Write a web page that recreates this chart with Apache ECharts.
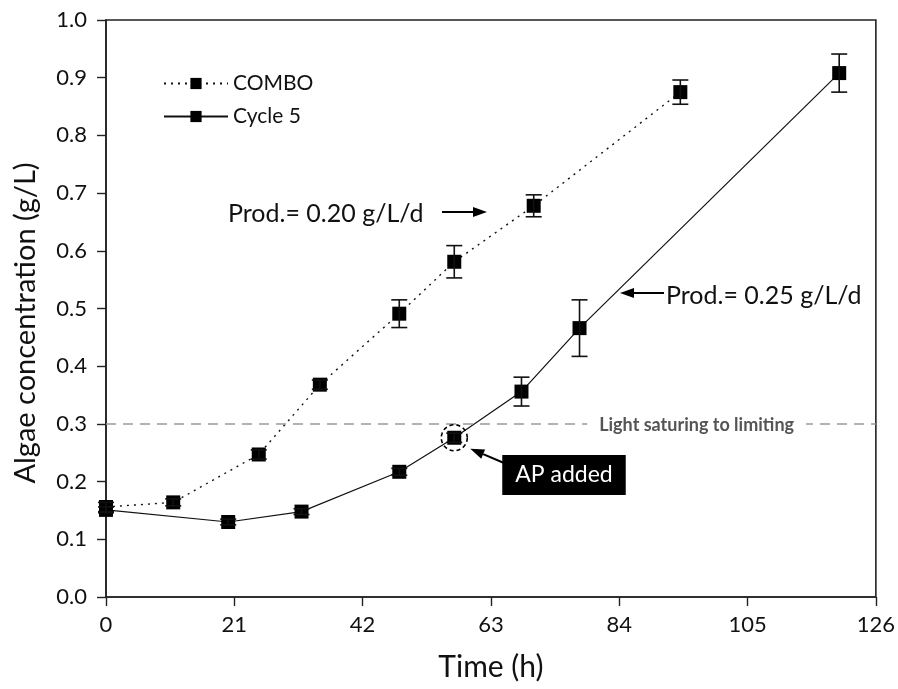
<!DOCTYPE html>
<html>
<head>
<meta charset="utf-8">
<script src="https://cdn.jsdelivr.net/npm/echarts@6/dist/echarts.min.js"></script>
<style>
  html, body { margin: 0; padding: 0; background: #fff; }
  #chart { width: 898px; height: 689px; }
</style>
</head>
<body>
<div id="chart"></div>
<script>
// Sampling times (h) and algae concentration (g/L) with standard deviations
var comboTime = [0, 11, 25, 35, 48, 57, 70, 94];
var comboConc = [0.156, 0.164, 0.247, 0.368, 0.491, 0.581, 0.678, 0.875];
var comboErr  = [0.008, 0.006, 0.008, 0.008, 0.024, 0.028, 0.019, 0.021];

var cycleTime = [0, 20, 32, 48, 57, 68, 77.5, 120];
var cycleConc = [0.151, 0.130, 0.148, 0.217, 0.276, 0.356, 0.466, 0.908];
var cycleErr  = [0.005, 0.005, 0.005, 0.006, 0.008, 0.025, 0.049, 0.033];

var xTicks = [0, 21, 42, 63, 84, 105, 126];
var yTicks = [0.0, 0.1, 0.2, 0.3, 0.4, 0.5, 0.6, 0.7, 0.8, 0.9, 1.0];

var FONT = 'Lato';

function pairs(xs, ys) { return xs.map(function (x, i) { return [x, ys[i]]; }); }
function errRows(xs, ys, es) { return xs.map(function (x, i) { return [x, ys[i] - es[i], ys[i] + es[i]]; }); }

function renderErr(params, api) {
  var x = api.value(0);
  var lo = api.coord([x, api.value(1)]);
  var hi = api.coord([x, api.value(2)]);
  var cap = 8;
  var st = { stroke: '#111', lineWidth: 1.6 };
  return {
    type: 'group',
    children: [
      { type: 'line', shape: { x1: lo[0], y1: lo[1], x2: hi[0], y2: hi[1] }, style: st },
      { type: 'line', shape: { x1: lo[0] - cap, y1: lo[1], x2: lo[0] + cap, y2: lo[1] }, style: st },
      { type: 'line', shape: { x1: hi[0] - cap, y1: hi[1], x2: hi[0] + cap, y2: hi[1] }, style: st }
    ]
  };
}

var chart = echarts.init(document.getElementById('chart'), null, { renderer: 'canvas' });

var axisLine = { show: true, lineStyle: { color: '#222', width: 1.6 } };

chart.setOption({
  animation: false,
  backgroundColor: '#fff',
  textStyle: { fontFamily: FONT },
  grid: { left: 106, right: 20, top: 20, bottom: 92, show: true, borderColor: '#222', borderWidth: 1.6, backgroundColor: 'transparent' },
  legend: {
    left: 158, top: 68, orient: 'vertical', itemGap: 12,
    itemWidth: 64, itemHeight: 14,
    textStyle: { fontFamily: FONT, fontSize: 21, color: '#111' },
    data: ['COMBO', 'Cycle 5']
  },
  xAxis: {
    type: 'value', min: 0, max: 126, interval: 21,
    name: 'Time (h)', nameLocation: 'middle', nameGap: 55,
    nameTextStyle: { fontFamily: FONT, fontSize: 30, color: '#111' },
    axisLine: axisLine,
    axisTick: { show: true, inside: false, length: 9, lineStyle: { color: '#222', width: 1.4 } },
    axisLabel: { fontFamily: FONT, fontSize: 22, color: '#111', margin: 17 },
    splitLine: { show: false }
  },
  yAxis: {
    type: 'value', min: 0, max: 1.0, interval: 0.1,
    axisLine: axisLine,
    axisTick: { show: true, inside: false, length: 9, lineStyle: { color: '#222', width: 1.4 } },
    axisLabel: { fontFamily: FONT, fontSize: 22, color: '#111', margin: 19, formatter: function (v) { return v.toFixed(1); } },
    splitLine: { show: false }
  },
  series: [
    {
      name: 'COMBO', type: 'line', data: pairs(comboTime, comboConc),
      symbol: 'rect', symbolSize: 14, z: 4,
      itemStyle: { color: '#000' },
      lineStyle: { color: '#111', width: 1.4, type: [2, 5] },
      markLine: {
        silent: true, symbol: 'none',
        lineStyle: { color: '#999', width: 1.6, type: [10, 7] },
        label: { show: false },
        data: [{ yAxis: 0.3 }]
      }
    },
    {
      name: 'Cycle 5', type: 'line', data: pairs(cycleTime, cycleConc),
      symbol: 'rect', symbolSize: 14, z: 4,
      itemStyle: { color: '#000' },
      lineStyle: { color: '#111', width: 1.2, type: 'solid' }
    },
    { type: 'custom', renderItem: renderErr, data: errRows(comboTime, comboConc, comboErr), z: 5, encode: { x: 0, y: [1, 2] } },
    { type: 'custom', renderItem: renderErr, data: errRows(cycleTime, cycleConc, cycleErr), z: 5, encode: { x: 0, y: [1, 2] } }
  ]
});

// Annotations placed in data coordinates
function px(x, y) { return chart.convertToPixel({ gridIndex: 0 }, [x, y]); }

function arrow(from, to) {
  var dx = to[0] - from[0], dy = to[1] - from[1];
  var len = Math.sqrt(dx * dx + dy * dy);
  var ux = dx / len, uy = dy / len;
  var hl = 14, hw = 5;
  var bx = to[0] - ux * hl, by = to[1] - uy * hl;
  return [
    { type: 'line', z: 20, shape: { x1: from[0], y1: from[1], x2: bx, y2: by }, style: { stroke: '#000', lineWidth: 2 } },
    { type: 'polygon', z: 20, shape: { points: [to, [bx - uy * hw, by + ux * hw], [bx + uy * hw, by - ux * hw]] }, style: { fill: '#000' } }
  ];
}

var apPt = px(cycleTime[4], cycleConc[4]);
var satY = px(0, 0.3)[1];
var labelBox = px(96.5, 0.3);

var gfx = [];
// vertical axis title
gfx.push({
  type: 'text', z: 10, x: 26, y: 323, rotation: Math.PI / 2,
  style: {
    text: 'Algae concentration (g/L)', fontFamily: FONT, fontSize: 29, fill: '#111',
    align: 'center', verticalAlign: 'middle'
  }
});
// gap label on the saturation line
gfx.push({
  type: 'text', z: 15, x: labelBox[0] + 1, y: satY + 1,
  style: {
    text: 'Light saturing to limiting', fontFamily: FONT, fontWeight: 'bold', fontSize: 18, fill: '#555',
    align: 'center', verticalAlign: 'middle', backgroundColor: '#fff', padding: [2, 12, 2, 12]
  }
});
// dashed ring around the AP addition point
gfx.push({
  type: 'circle', z: 15, shape: { cx: apPt[0], cy: apPt[1], r: 13 },
  style: { fill: 'none', stroke: '#000', lineWidth: 1.6, lineDash: [4, 3] }
});
// AP added box
gfx.push({
  type: 'text', z: 20, x: 564, y: 475,
  style: {
    text: 'AP added', fontFamily: FONT, fontSize: 23, fill: '#fff', align: 'center', verticalAlign: 'middle',
    backgroundColor: '#000', padding: [9, 13, 8, 13]
  }
});
gfx = gfx.concat(arrow([504, 463], [apPt[0] + 16, apPt[1] + 11]));
// productivity labels
gfx.push({
  type: 'text', z: 20, x: 228, y: 214,
  style: { text: 'Prod.= 0.20 g/L/d', fontFamily: FONT, fontSize: 25, fill: '#111', verticalAlign: 'middle' }
});
gfx = gfx.concat(arrow([442, 212], [487, 212]));
gfx.push({
  type: 'text', z: 20, x: 666, y: 296,
  style: { text: 'Prod.= 0.25 g/L/d', fontFamily: FONT, fontSize: 25, fill: '#111', verticalAlign: 'middle' }
});
gfx = gfx.concat(arrow([664, 293], [620, 293]));

chart.setOption({ graphic: gfx });
</script>
</body>
</html>
